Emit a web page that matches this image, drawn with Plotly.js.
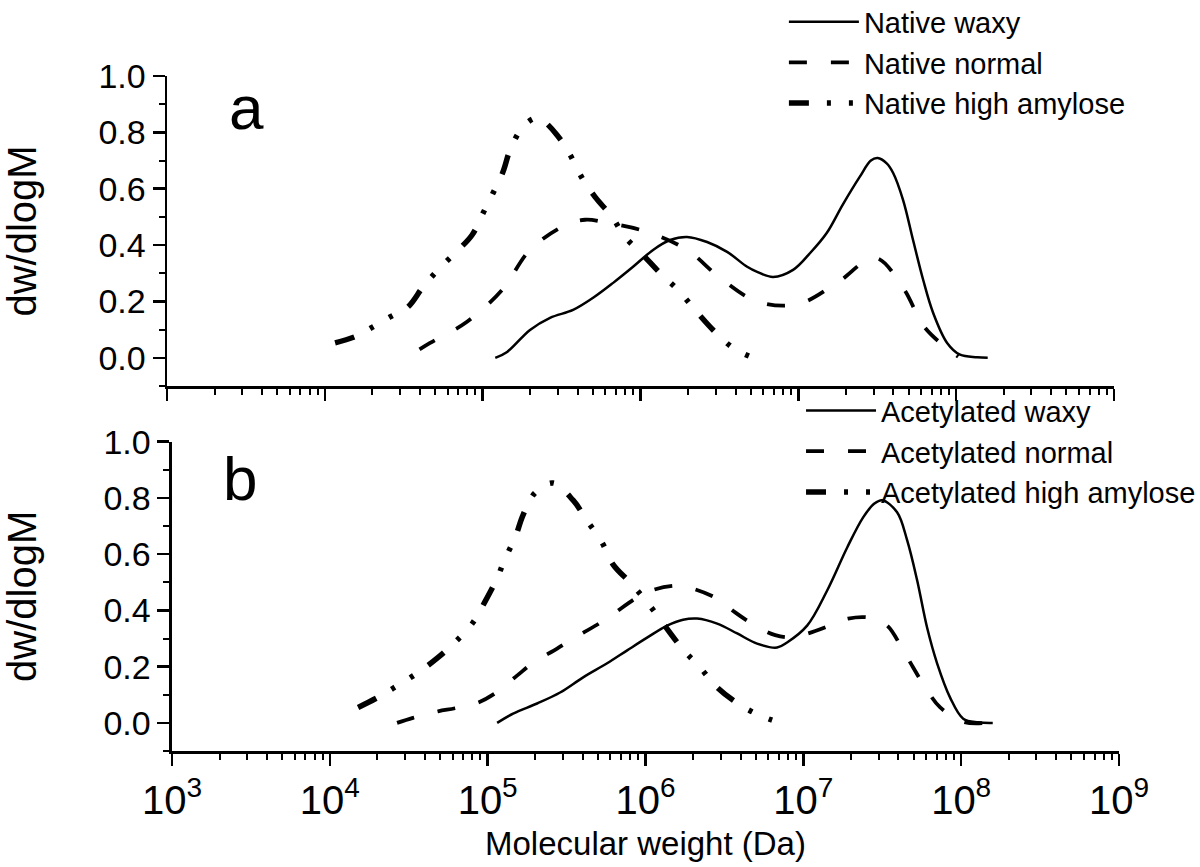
<!DOCTYPE html>
<html>
<head>
<meta charset="utf-8">
<script src="https://cdn.plot.ly/plotly-3.0.1.min.js"></script>
<style>html,body{margin:0;padding:0;background:#fff;}#chart{width:1200px;height:867px;}</style>
</head>
<body>
<div id="chart"></div>
<script>
// ---- Data (log10 of molecular weight, dw/dlogM) ----
const nativeWaxyLogM = [5.08,5.155,5.30,5.427,5.573,5.70,5.827,5.953,6.08,6.188,6.295,6.422,6.549,6.676,6.739,6.84,6.967,7.075,7.18,7.281,7.389,7.46,7.503,7.56,7.601,7.664,7.727,7.791,7.854,7.943,8.025,8.133,8.2];
const nativeWaxyY    = [0.0,0.021,0.099,0.142,0.170,0.213,0.266,0.323,0.383,0.418,0.429,0.411,0.376,0.323,0.305,0.287,0.312,0.372,0.443,0.543,0.642,0.70,0.709,0.69,0.656,0.560,0.418,0.277,0.160,0.053,0.011,0.002,0.0];

const nativeNormalLogM = [4.60,4.667,4.901,5.123,5.30,5.522,5.65,5.788,6.042,6.295,6.504,6.745,6.999,7.246,7.487,7.664,7.804,8.013];
const nativeNormalY    = [0.03,0.053,0.128,0.241,0.383,0.470,0.49,0.479,0.447,0.383,0.284,0.199,0.191,0.266,0.355,0.248,0.106,0.004];

const nativeHighLogM = [4.065,4.204,4.305,4.413,4.527,4.622,4.717,4.825,4.933,5.003,5.066,5.129,5.174,5.25,5.33,5.376,5.471,5.554,5.63,5.712,5.82,5.902,6.016,6.124,6.238,6.346,6.46,6.587,6.714];
const nativeHighY    = [0.053,0.078,0.110,0.145,0.181,0.252,0.312,0.372,0.436,0.514,0.585,0.660,0.738,0.816,0.85,0.844,0.791,0.720,0.638,0.571,0.500,0.429,0.365,0.301,0.241,0.170,0.099,0.035,0.0];

const acetWaxyLogM = [5.06,5.161,5.313,5.459,5.605,5.757,5.884,6.01,6.137,6.238,6.327,6.454,6.581,6.707,6.834,6.897,7.024,7.151,7.278,7.379,7.45,7.50,7.594,7.658,7.721,7.784,7.848,7.93,8.013,8.108,8.2];
const acetWaxyY    = [0.0,0.033,0.069,0.108,0.162,0.212,0.258,0.303,0.346,0.367,0.371,0.353,0.318,0.282,0.268,0.286,0.346,0.471,0.624,0.731,0.78,0.792,0.749,0.649,0.507,0.339,0.211,0.090,0.015,0.002,0.0];

const acetNormalLogM = [4.426,4.527,4.686,4.793,4.939,5.047,5.186,5.288,5.44,5.541,5.693,5.795,5.947,6.048,6.207,6.302,6.454,6.568,6.714,6.822,6.929,7.03,7.182,7.284,7.423,7.531,7.632,7.695,7.784,7.867,8.013,8.15];
const acetNormalY    = [0.0,0.018,0.041,0.052,0.072,0.105,0.168,0.214,0.264,0.300,0.349,0.387,0.446,0.473,0.488,0.477,0.442,0.393,0.339,0.312,0.304,0.318,0.349,0.371,0.374,0.346,0.258,0.198,0.116,0.055,0.004,0.0];

const acetHighLogM = [4.179,4.305,4.432,4.559,4.686,4.806,4.907,4.984,5.06,5.11,5.174,5.224,5.30,5.414,5.541,5.63,5.725,5.795,5.915,6.023,6.232,6.346,6.454,6.593,6.726,6.853];
const acetHighY    = [0.055,0.091,0.134,0.179,0.233,0.294,0.357,0.432,0.515,0.584,0.659,0.739,0.818,0.853,0.792,0.719,0.641,0.563,0.492,0.420,0.265,0.197,0.126,0.066,0.026,0.0];

const seriesNames = ["Native waxy","Native normal","Native high amylose","Acetylated waxy","Acetylated normal","Acetylated high amylose"];
const xTickVals = [1e3,1e4,1e5,1e6,1e7,1e8,1e9];
const xTickText = ["10<sup>3</sup>","10<sup>4</sup>","10<sup>5</sup>","10<sup>6</sup>","10<sup>7</sup>","10<sup>8</sup>","10<sup>9</sup>"];
const yTickVals = [0.0,0.2,0.4,0.6,0.8,1.0];

const toM = arr => arr.map(v => Math.pow(10, v));

const FONT = '"Liberation Sans", Arial, sans-serif';
const solid = {color:'#000', width:2.5, dash:'solid', shape:'spline', smoothing:1};
const dashed = {color:'#000', width:3.8, dash:'18px,24px', shape:'spline', smoothing:1};
const dashDot = {color:'#000', width:5.5, dash:'20px,18px,4px,18px,4px,18px', shape:'spline', smoothing:1};

const traces = [
  {x: toM(nativeWaxyLogM), y: nativeWaxyY, name: seriesNames[0], line: solid, xaxis:'x', yaxis:'y', legend:'legend'},
  {x: toM(nativeNormalLogM), y: nativeNormalY, name: seriesNames[1], line: dashed, xaxis:'x', yaxis:'y', legend:'legend'},
  {x: toM(nativeHighLogM), y: nativeHighY, name: seriesNames[2], line: dashDot, xaxis:'x', yaxis:'y', legend:'legend'},
  {x: toM(acetWaxyLogM), y: acetWaxyY, name: seriesNames[3], line: solid, xaxis:'x2', yaxis:'y2', legend:'legend2'},
  {x: toM(acetNormalLogM), y: acetNormalY, name: seriesNames[4], line: dashed, xaxis:'x2', yaxis:'y2', legend:'legend2'},
  {x: toM(acetHighLogM), y: acetHighY, name: seriesNames[5], line: dashDot, xaxis:'x2', yaxis:'y2', legend:'legend2'}
].map(t => Object.assign({type:'scatter', mode:'lines', hoverinfo:'skip'}, t));

const xBase = {
  type:'log', range:[3,9], tickvals: xTickVals, ticktext: xTickText,
  showline:true, linecolor:'#000', linewidth:2.5, mirror:false,
  ticks:'outside', ticklen:12, tickwidth:2.5, tickcolor:'#000',
  minor:{ticks:'outside', ticklen:6, tickwidth:2, tickcolor:'#000', dtick:'D1', showgrid:false},
  showgrid:false, zeroline:false, automargin:false,
  tickfont:{family:FONT, size:40, color:'#000'}
};
const yBase = {
  range:[-0.1,1.0], tickvals: yTickVals, tickformat:'.1f',
  showline:true, linecolor:'#000', linewidth:2.5, mirror:false,
  ticks:'outside', ticklen:12, tickwidth:2.5, tickcolor:'#000',
  minor:{ticks:'outside', ticklen:6, tickwidth:2, tickcolor:'#000', dtick:0.1, tick0:0, showgrid:false},
  showgrid:false, zeroline:false, automargin:false,
  tickfont:{family:FONT, size:34, color:'#000'},
  title:{text:'dw/dlogM', font:{family:FONT, size:40, color:'#000'}, standoff:58}
};

const layout = {
  width:1200, height:867,
  margin:{l:167, r:81, t:76, b:116, autoexpand:false},
  paper_bgcolor:'#fff', plot_bgcolor:'#fff',
  font:{family:FONT, color:'#000'},
  showlegend:true,
  xaxis: Object.assign({}, xBase, {domain:[0,0.9947], anchor:'y', showticklabels:false}),
  yaxis: Object.assign({}, yBase, {domain:[0.5407,1], anchor:'x'}),
  xaxis2: Object.assign({}, xBase, {domain:[0.00525,1], anchor:'y2',
    title:{text:'Molecular weight (Da)', font:{family:FONT, size:33, color:'#000'}, standoff:12}}),
  yaxis2: Object.assign({}, yBase, {domain:[0,0.4582], anchor:'x2'}),
  legend:{x:0.648, y:1.118, xanchor:'left', yanchor:'top', bgcolor:'rgba(0,0,0,0)', itemwidth:70,
    font:{family:FONT, size:29, color:'#000'}, tracegroupgap:0},
  legend2:{x:0.666, y:0.542, xanchor:'left', yanchor:'top', bgcolor:'rgba(0,0,0,0)', itemwidth:70,
    font:{family:FONT, size:29, color:'#000'}, tracegroupgap:0},
  annotations:[
    {text:'a', xref:'paper', yref:'paper', x:0.084, y:0.954, showarrow:false, xanchor:'center', yanchor:'middle', font:{family:FONT, size:62, color:'#000'}},
    {text:'b', xref:'paper', yref:'paper', x:0.0767, y:0.404, showarrow:false, xanchor:'center', yanchor:'middle', font:{family:FONT, size:62, color:'#000'}}
  ]
};

Plotly.newPlot('chart', traces, layout, {staticPlot:true, displayModeBar:false});
</script>
</body>
</html>
